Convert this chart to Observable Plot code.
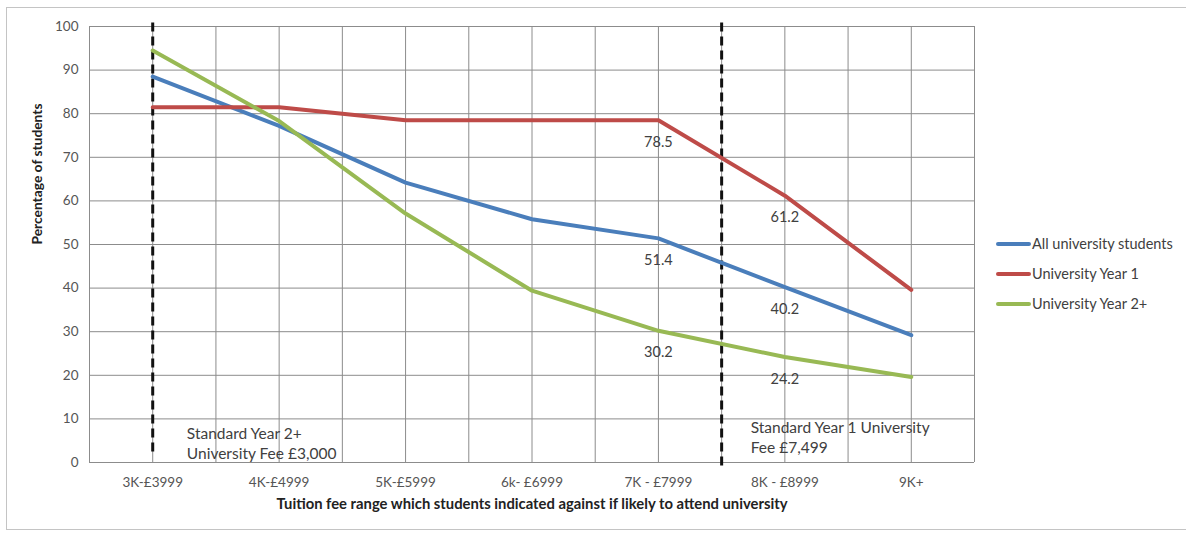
<!DOCTYPE html>
<html>
<head>
<meta charset="utf-8">
<script src="https://cdn.jsdelivr.net/npm/d3@7"></script>
<script src="https://cdn.jsdelivr.net/npm/@observablehq/plot@0.6"></script>
<style>
  html, body { margin: 0; padding: 0; background: #fff; overflow: hidden; }
  #wrap { position: relative; width: 1186px; height: 534px; font-family: Lato, "Open Sans", sans-serif; }
  #frame { position: absolute; left: 6px; top: 7px; width: 1200px; height: 523px; border: 1.5px solid #c4c4c4; box-sizing: border-box; }
  #chart { position: absolute; left: 0; top: 0; }
  #legend { position: absolute; left: 996px; top: 229px; font-size: 14.5px; color: #404040; }
  .item { display: flex; align-items: center; height: 30px; line-height: 20px; }
  .swatch { width: 35px; height: 4px; border-radius: 2px; margin-right: 1px; }
</style>
</head>
<body>
<div id="wrap">
  <div id="frame"></div>
  <div id="chart"></div>
  <div id="legend"></div>
</div>
<script>
const categories = ["3K-£3999", "4K-£4999", "5K-£5999", "6k- £6999", "7K - £7999", "8K - £8999", "9K+"];
const seriesNames = ["All university students", "University Year 1", "University Year 2+"];
const allStudents = [88.5, 77.2, 64.2, 55.8, 51.4, 40.2, 29.2];
const year1 = [81.5, 81.5, 78.5, 78.5, 78.5, 61.2, 39.6];
const year2plus = [94.5, 78.3, 57.1, 39.4, 30.2, 24.2, 19.6];
const seriesColors = ["#4a7ebb", "#be4b48", "#98b954"];
const labelledIndexes = [4, 5];
const yTicks = [0, 10, 20, 30, 40, 50, 60, 70, 80, 90, 100];
// reference lines: category position and vertical extent
const feeLines = [{x: 0, y1: 100.8, y2: 2}, {x: 4.5, y1: 100.8, y2: -1.8}];
const annotations = [
  {x: 0.27, y: 4.6, text: "Standard Year 2+\nUniversity Fee £3,000"},
  {x: 4.73, y: 6.0, text: "Standard Year 1 University\nFee £7,499"}
];

const seriesValues = [allStudents, year1, year2plus];
const rows = [];
seriesValues.forEach((vals, s) => vals.forEach((v, i) => rows.push({series: seriesNames[s], i, v})));
const labelRows = rows.filter(d => labelledIndexes.includes(d.i));
const gridX = d3.range(-0.5, 6.51, 0.5);

const chart = Plot.plot({
  width: 1186,
  height: 534,
  marginLeft: 89,
  marginRight: 212,
  marginTop: 26,
  marginBottom: 72,
  style: {fontFamily: "Lato, 'Open Sans', sans-serif", background: "transparent"},
  x: {type: "linear", domain: [-0.5, 6.5]},
  y: {domain: [0, 100]},
  color: {domain: seriesNames, range: seriesColors},
  marks: [
    Plot.ruleX(gridX, {stroke: "#8c8c8c", strokeWidth: 1}),
    Plot.ruleY(yTicks, {stroke: "#8c8c8c", strokeWidth: 1}),
    Plot.axisY(yTicks, {tickSize: 0, tickPadding: 11, fontSize: 13.5, color: "#555", label: null}),
    Plot.axisX(d3.range(categories.length), {tickSize: 0, tickPadding: 15, fontSize: 13.5, color: "#555", label: null, tickFormat: i => categories[i]}),
    Plot.ruleX(feeLines, {x: "x", y1: "y1", y2: "y2", stroke: "#111", strokeWidth: 3, strokeDasharray: "9,5"}),
    Plot.line(rows, {x: "i", y: "v", z: "series", stroke: "series", strokeWidth: 4, strokeLinejoin: "round"}),
    Plot.text(labelRows, {x: "i", y: "v", text: d => d.v.toFixed(1), dy: 22, fontSize: 14.5, fill: "#404040"}),
    Plot.text(annotations, {x: "x", y: "y", text: "text", textAnchor: "start", lineAnchor: "middle", lineHeight: 1.3, fontSize: 15.5, fill: "#404040"}),
    Plot.text(["Percentage of students"], {frameAnchor: "left", dx: -52, rotate: -90, fontSize: 13.8, fontWeight: "bold", fill: "#222"}),
    Plot.text(["Tuition fee range which students indicated against if likely to attend university"], {frameAnchor: "bottom", dy: 46, fontSize: 14.8, fontWeight: "bold", fill: "#222"})
  ]
});
document.getElementById("chart").appendChild(chart);

const legend = document.getElementById("legend");
seriesNames.forEach((name, k) => {
  const item = document.createElement("div");
  item.className = "item";
  const sw = document.createElement("div");
  sw.className = "swatch";
  sw.style.background = seriesColors[k];
  const label = document.createElement("span");
  label.textContent = name;
  item.appendChild(sw);
  item.appendChild(label);
  legend.appendChild(item);
});
</script>
</body>
</html>
